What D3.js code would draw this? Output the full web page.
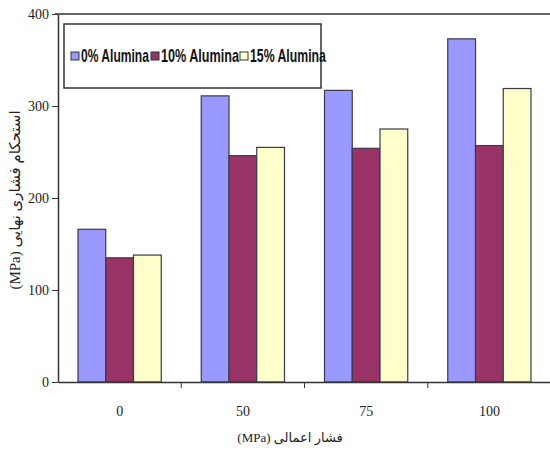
<!DOCTYPE html>
<html>
<head>
<meta charset="utf-8">
<title>Compressive strength</title>
<script src="https://cdn.jsdelivr.net/npm/d3@7"></script>
<style>
  body { margin: 0; background: #fff; }
  .tick text { font-family: "Liberation Serif", "Times New Roman", serif; font-size: 14px; fill: #222; }
  .axis path, .axis line { stroke: #333; }
</style>
</head>
<body>
<svg width="550" height="454"></svg>
<script>
// data
var pressures = ["0", "50", "75", "100"];
var series = ["0% Alumina", "10% Alumina", "15% Alumina"];
var alumina0 = [166, 311, 317, 373];
var alumina10 = [135, 246, 254, 257];
var alumina15 = [138, 255, 275, 319];
var yTicks = [0, 100, 200, 300, 400];
var colors = ["#9999ff", "#993366", "#ffffcc"];

var values = [alumina0, alumina10, alumina15];
var svg = d3.select("svg");

var x0 = d3.scaleBand().domain(pressures).range([58, 551]).padding(0);
var x1 = d3.scaleBand().domain(series).range([20, x0.bandwidth() - 20]).padding(0);
var y = d3.scaleLinear().domain([0, 400]).range([382, 14]);
var color = d3.scaleOrdinal().domain(series).range(colors);

// top border line
svg.append("line")
  .attr("x1", 55).attr("x2", 550)
  .attr("y1", y(400)).attr("y2", y(400))
  .attr("stroke", "#333").attr("stroke-width", 1.5);

// bars
var groups = svg.selectAll("g.grp")
  .data(pressures)
  .enter().append("g")
  .attr("class", "grp")
  .attr("transform", function(d) { return "translate(" + x0(d) + ",0)"; });

groups.selectAll("rect")
  .data(function(d, i) { return series.map(function(s, j) { return { s: s, v: values[j][i] }; }); })
  .enter().append("rect")
  .attr("x", function(d) { return x1(d.s); })
  .attr("y", function(d) { return y(d.v); })
  .attr("width", x1.bandwidth())
  .attr("height", function(d) { return y(0) - y(d.v); })
  .attr("fill", function(d) { return color(d.s); })
  .attr("stroke", "#3a3a4a")
  .attr("stroke-width", 1.2);

// y axis
svg.append("g")
  .attr("class", "axis")
  .attr("transform", "translate(58,0)")
  .call(d3.axisLeft(y).tickValues(yTicks).tickSize(6).tickSizeOuter(0).tickPadding(3))
  .call(function(g) { g.select(".domain").attr("stroke-width", 1.5); });

// x axis (labels at group centers, ticks between groups)
var xa = svg.append("g")
  .attr("class", "axis")
  .attr("transform", "translate(0,382)")
  .call(d3.axisBottom(x0).tickSize(0).tickSizeOuter(0).tickPadding(24));
xa.select(".domain").attr("stroke-width", 1.5);
xa.selectAll(".sep")
  .data(pressures.slice(1))
  .enter().append("line")
  .attr("class", "sep")
  .attr("x1", function(d) { return x0(d); })
  .attr("x2", function(d) { return x0(d); })
  .attr("y1", 0).attr("y2", 6)
  .attr("stroke", "#333");

// axis titles
svg.append("text")
  .attr("x", 290).attr("y", 442)
  .attr("text-anchor", "middle")
  .attr("direction", "rtl")
  .attr("font-family", "'Liberation Serif', 'DejaVu Sans', serif")
  .attr("font-size", 13)
  .attr("fill", "#222")
  .text("فشار اعمالی (MPa)");

svg.append("text")
  .attr("transform", "translate(20,200) rotate(-90)")
  .attr("text-anchor", "middle")
  .attr("direction", "rtl")
  .attr("font-family", "'Liberation Serif', 'DejaVu Sans', serif")
  .attr("font-size", 15)
  .attr("fill", "#222")
  .text("استحکام فشاری نهایی (MPa)");

// legend
var legend = svg.append("g");
legend.append("rect")
  .attr("x", 64).attr("y", 24)
  .attr("width", 257).attr("height", 64)
  .attr("fill", "#fff")
  .attr("stroke", "#333").attr("stroke-width", 1.5);

var legX = [71, 151, 240];
var legW = [68, 78, 76];
var item = legend.selectAll("g.item")
  .data(series)
  .enter().append("g")
  .attr("class", "item")
  .attr("transform", function(d, i) { return "translate(" + legX[i] + ",0)"; });
item.append("rect")
  .attr("x", 0).attr("y", 52)
  .attr("width", 8).attr("height", 8)
  .attr("fill", function(d) { return color(d); })
  .attr("stroke", "#333").attr("stroke-width", 1);
item.append("text")
  .attr("font-family", "'Liberation Sans Narrow', 'Arial Narrow', 'Liberation Sans', sans-serif")
  .attr("font-weight", "bold")
  .attr("font-size", 18)
  .attr("fill", "#111")
  .text(function(d) { return d; })
  .attr("transform", function(d, i) {
    // squeeze the text horizontally to look like a narrow face
    var w = this.getComputedTextLength();
    return "translate(10,62) scale(" + (legW[i] / w) + ",1)";
  });
</script>
</body>
</html>
